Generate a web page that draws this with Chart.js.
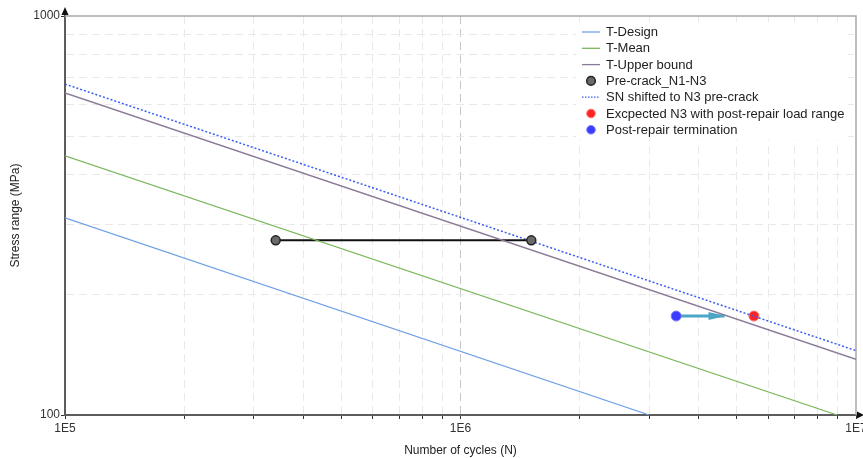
<!DOCTYPE html>
<html>
<head>
<meta charset="utf-8">
<script src="https://cdn.jsdelivr.net/npm/chart.js@4"></script>
<style>
html,body{margin:0;padding:0;background:#fff;}
#wrap{width:863px;height:458px;}
</style>
</head>
<body>
<div id="wrap"><canvas id="c" width="863" height="458"></canvas></div>
<script>
// ---- data ----
const xTicks = [1e5,2e5,3e5,4e5,5e5,6e5,7e5,8e5,9e5,1e6,2e6,3e6,4e6,5e6,6e6,7e6,8e6,9e6,1e7];
const yTicks = [100,200,300,400,500,600,700,800,900,1000];
const xTickLabels = {100000:'1E5',1000000:'1E6',10000000:'1E7'};
const yTickLabels = {100:'100',1000:'1000'};

const designN = [1e5, 3.0e6];      const designS = [312, 100];
const meanN = [1e5, 8.96e6];       const meanS = [446, 100];
const upperN = [1e5, 1e7];         const upperS = [641, 138];
const shiftedN = [1e5, 1e7];       const shiftedS = [675, 145];
const precrackN = [3.41e5, 1.51e6]; const precrackS = [274, 274];
const expectedN = [5.52e6];        const expectedS = [177];
const postRepairN = [3.51e6];      const postRepairS = [177];
const arrowN = [3.51e6, 4.65e6];   const arrowS = [177, 177];

const labels = ['T-Design','T-Mean','T-Upper bound','Pre-crack_N1-N3','SN shifted to N3 pre-crack','Excpected N3 with post-repair load range','Post-repair termination'];

function pts(xs, ys){ return xs.map((x,i)=>({x:x, y:ys[i]})); }
function isPow10(v){ const l=Math.log10(v); return Math.abs(l-Math.round(l))<1e-9; }

const FONT = "Arial, 'Liberation Sans', sans-serif";

const datasets = [
  {label:labels[0], data:pts(designN,designS), showLine:true, borderColor:'#6f9fe6', borderWidth:1.2, pointRadius:0, legendType:'line'},
  {label:labels[1], data:pts(meanN,meanS), showLine:true, borderColor:'#7cb85e', borderWidth:1.2, pointRadius:0, legendType:'line'},
  {label:labels[2], data:pts(upperN,upperS), showLine:true, borderColor:'#8b7b98', borderWidth:1.5, pointRadius:0, legendType:'line'},
  {label:labels[3], data:pts(precrackN,precrackS), showLine:true, borderColor:'#111', borderWidth:2, pointRadius:4.5, pointBackgroundColor:'#6a6a6a', pointBorderColor:'#222', pointBorderWidth:1.5, legendType:'point'},
  {label:labels[4], data:pts(shiftedN,shiftedS), showLine:true, borderColor:'#3a5cf2', borderWidth:1.5, borderDash:[2,2], pointRadius:0, legendType:'line'},
  {label:labels[5], data:pts(expectedN,expectedS), showLine:false, pointRadius:5, pointBackgroundColor:'#ff2424', pointBorderColor:'#ff7070', pointBorderWidth:1, legendType:'point'},
  {label:labels[6], data:pts(postRepairN,postRepairS), showLine:false, pointRadius:5, pointBackgroundColor:'#3c3cff', pointBorderColor:'#7c7cff', pointBorderWidth:1, legendType:'point'},
  {label:'arrow', data:pts(arrowN,arrowS), showLine:true, borderColor:'#4aa6c6', borderWidth:3, pointRadius:0, isArrow:true, order:1}
];

const decor = {
  id:'decor',
  beforeDatasetsDraw(chart){
    const {ctx, chartArea:a} = chart;
    ctx.save();
    ctx.strokeStyle = '#a8a8a8'; ctx.lineWidth = 1.5;
    ctx.beginPath();
    ctx.moveTo(a.left, a.top); ctx.lineTo(a.right, a.top); ctx.lineTo(a.right, a.bottom);
    ctx.stroke();
    ctx.restore();
  },
  afterDatasetsDraw(chart){
    const {ctx, chartArea:a} = chart;
    chart.data.datasets.forEach((ds,i)=>{
      if(!ds.isArrow) return;
      const meta = chart.getDatasetMeta(i);
      const p = meta.data[meta.data.length-1];
      ctx.save();
      ctx.fillStyle = ds.borderColor;
      ctx.beginPath();
      ctx.moveTo(p.x+1, p.y);
      ctx.lineTo(p.x-16, p.y-4);
      ctx.lineTo(p.x-16, p.y+4);
      ctx.closePath(); ctx.fill();
      ctx.restore();
    });
    ctx.save();
    ctx.fillStyle = '#111';
    ctx.beginPath();
    ctx.moveTo(a.left, a.top-9); ctx.lineTo(a.left-3.5, a.top-1); ctx.lineTo(a.left+3.5, a.top-1); ctx.closePath(); ctx.fill();
    ctx.beginPath();
    ctx.moveTo(a.right+8, a.bottom); ctx.lineTo(a.right+1, a.bottom-3.5); ctx.lineTo(a.right+1, a.bottom+3.5); ctx.closePath(); ctx.fill();
    ctx.restore();
    ctx.save();
    ctx.fillStyle = '#fff';
    ctx.fillRect(576, 22, 272, 118);
    ctx.font = '13px ' + FONT;
    ctx.textBaseline = 'middle';
    const items = chart.data.datasets.filter(d=>!d.isArrow);
    items.forEach((ds,k)=>{
      const y = 32 + k*16.3;
      if(ds.legendType==='line'){
        ctx.strokeStyle = ds.borderColor; ctx.lineWidth = 1.3;
        ctx.setLineDash(ds.borderDash ? [1.5,1.5] : []);
        ctx.beginPath(); ctx.moveTo(582, y); ctx.lineTo(600, y); ctx.stroke();
        ctx.setLineDash([]);
      } else {
        ctx.fillStyle = ds.pointBackgroundColor; ctx.strokeStyle = ds.pointBorderColor;
        ctx.lineWidth = ds.pointBorderWidth;
        ctx.beginPath(); ctx.arc(591, y, 4.3, 0, Math.PI*2); ctx.fill(); ctx.stroke();
      }
      ctx.fillStyle = '#222';
      ctx.fillText(ds.label, 606, y+0.5);
    });
    ctx.restore();
  }
};

new Chart(document.getElementById('c'), {
  type:'scatter',
  data:{datasets:datasets},
  options:{
    responsive:false,
    animation:false,
    layout:{padding:{top:16, right:7, left:0, bottom:0}},
    plugins:{legend:{display:false}, tooltip:{enabled:false}},
    scales:{
      x:{
        type:'logarithmic', min:1e5, max:1e7,
        afterBuildTicks(s){ s.ticks = xTicks.map(v=>({value:v})); },
        afterFit(s){ s.height = 43; s.paddingLeft = 0; s.paddingRight = 0; },
        ticks:{autoSkip:false, maxRotation:0, padding:2, color:'#333', font:{family:FONT, size:12},
          callback:(v)=> xTickLabels[Math.round(v)] || ''},
        grid:{color:(c)=> c.tick && isPow10(c.tick.value) ? (c.tick.value===1e6 ? '#c6c6c6' : 'rgba(0,0,0,0)') : '#e9e9e9',
          lineWidth:1, tickLength:4, tickColor:'#333', tickBorderDash:[]},
        border:{color:'#5c5c5c', width:2, dash:[8,5]},
        title:{display:true, text:'Number of cycles (N)', color:'#222', font:{family:FONT, size:12}, padding:{top:0,bottom:0}}
      },
      y:{
        type:'logarithmic', min:100, max:1000,
        afterBuildTicks(s){ s.ticks = yTicks.map(v=>({value:v})); },
        afterFit(s){ s.width = 65; s.paddingTop = 0; s.paddingBottom = 0; },
        ticks:{autoSkip:false, padding:1, color:'#333', font:{family:FONT, size:12},
          callback:(v)=> yTickLabels[Math.round(v)] || ''},
        grid:{color:(c)=> c.tick && isPow10(c.tick.value) ? 'rgba(0,0,0,0)' : '#e9e9e9',
          lineWidth:1, tickLength:4, tickColor:(c)=> c.tick && isPow10(c.tick.value) ? '#333' : 'rgba(0,0,0,0)', tickBorderDash:[]},
        border:{color:'#5c5c5c', width:2, dash:[8,5]},
        title:{display:true, text:'Stress range (MPa)', color:'#222', font:{family:FONT, size:12}, padding:{top:8,bottom:0}}
      }
    }
  },
  plugins:[decor]
});
</script>
</body>
</html>
